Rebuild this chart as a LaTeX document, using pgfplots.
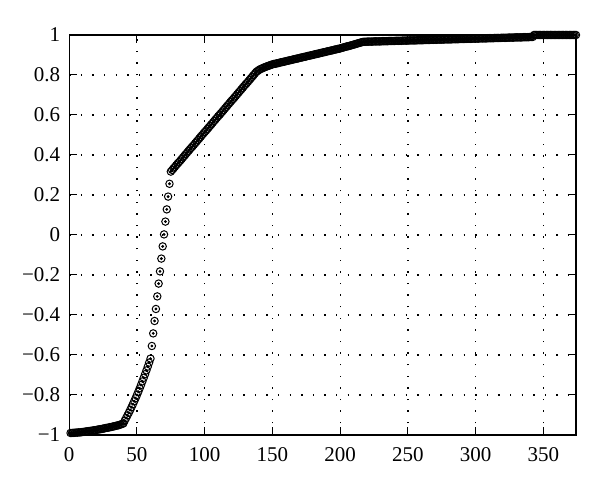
\documentclass[border=0pt]{standalone}
\usepackage{fontspec}
\setmainfont{Liberation Serif}
\usepackage{pgfplots}
\usepackage{pgfplotstable}
\pgfplotsset{compat=1.18}

\pgfplotstableread[row sep=\\]{
x y\\
1 -0.990\\ 2 -0.990\\ 3 -0.989\\ 4 -0.989\\ 5 -0.988\\ 6 -0.988\\ 7 -0.987\\ 8 -0.987\\ 9 -0.986\\ 10 -0.985\\
11 -0.984\\ 12 -0.983\\ 13 -0.982\\ 14 -0.981\\ 15 -0.980\\ 16 -0.979\\ 17 -0.978\\ 18 -0.977\\ 19 -0.976\\ 20 -0.975\\
21 -0.973\\ 22 -0.972\\ 23 -0.971\\ 24 -0.970\\ 25 -0.968\\ 26 -0.967\\ 27 -0.965\\ 28 -0.964\\ 29 -0.963\\ 30 -0.961\\
31 -0.960\\ 32 -0.958\\ 33 -0.957\\ 34 -0.955\\ 35 -0.953\\ 36 -0.952\\ 37 -0.950\\ 38 -0.947\\ 39 -0.945\\ 40 -0.942\\
41 -0.928\\ 42 -0.915\\ 43 -0.902\\ 44 -0.889\\ 45 -0.875\\ 46 -0.861\\ 47 -0.846\\ 48 -0.831\\ 49 -0.816\\ 50 -0.800\\
51 -0.784\\ 52 -0.767\\ 53 -0.750\\ 54 -0.732\\ 55 -0.714\\ 56 -0.696\\ 57 -0.677\\ 58 -0.658\\ 59 -0.638\\ 60 -0.618\\
61 -0.555\\ 62 -0.492\\ 63 -0.430\\ 64 -0.370\\ 65 -0.307\\ 66 -0.243\\ 67 -0.182\\ 68 -0.118\\ 69 -0.057\\ 70 0.003\\
71 0.067\\ 72 0.128\\ 73 0.192\\ 74 0.256\\ 75 0.317\\ 76 0.325\\ 77 0.333\\ 78 0.341\\ 79 0.349\\ 80 0.357\\
81 0.364\\ 82 0.372\\ 83 0.380\\ 84 0.388\\ 85 0.396\\ 86 0.404\\ 87 0.412\\ 88 0.420\\ 89 0.428\\ 90 0.436\\
91 0.443\\ 92 0.451\\ 93 0.459\\ 94 0.467\\ 95 0.475\\ 96 0.483\\ 97 0.491\\ 98 0.499\\ 99 0.507\\ 100 0.515\\
101 0.522\\ 102 0.530\\ 103 0.538\\ 104 0.546\\ 105 0.554\\ 106 0.562\\ 107 0.570\\ 108 0.578\\ 109 0.586\\ 110 0.594\\
111 0.601\\ 112 0.609\\ 113 0.617\\ 114 0.625\\ 115 0.633\\ 116 0.641\\ 117 0.649\\ 118 0.657\\ 119 0.665\\ 120 0.673\\
121 0.680\\ 122 0.688\\ 123 0.696\\ 124 0.704\\ 125 0.712\\ 126 0.720\\ 127 0.728\\ 128 0.736\\ 129 0.744\\ 130 0.752\\
131 0.759\\ 132 0.767\\ 133 0.775\\ 134 0.783\\ 135 0.791\\ 136 0.799\\ 137 0.807\\ 138 0.815\\ 139 0.820\\ 140 0.825\\
141 0.829\\ 142 0.832\\ 143 0.835\\ 144 0.838\\ 145 0.841\\ 146 0.843\\ 147 0.846\\ 148 0.848\\ 149 0.851\\ 150 0.853\\
151 0.855\\ 152 0.856\\ 153 0.858\\ 154 0.859\\ 155 0.861\\ 156 0.863\\ 157 0.864\\ 158 0.866\\ 159 0.867\\ 160 0.869\\
161 0.871\\ 162 0.872\\ 163 0.874\\ 164 0.875\\ 165 0.877\\ 166 0.879\\ 167 0.880\\ 168 0.882\\ 169 0.883\\ 170 0.885\\
171 0.887\\ 172 0.888\\ 173 0.890\\ 174 0.891\\ 175 0.893\\ 176 0.895\\ 177 0.896\\ 178 0.898\\ 179 0.899\\ 180 0.901\\
181 0.903\\ 182 0.904\\ 183 0.906\\ 184 0.907\\ 185 0.909\\ 186 0.911\\ 187 0.912\\ 188 0.914\\ 189 0.915\\ 190 0.917\\
191 0.919\\ 192 0.920\\ 193 0.922\\ 194 0.923\\ 195 0.925\\ 196 0.927\\ 197 0.928\\ 198 0.930\\ 199 0.931\\ 200 0.933\\
201 0.935\\ 202 0.937\\ 203 0.939\\ 204 0.941\\ 205 0.943\\ 206 0.944\\ 207 0.946\\ 208 0.948\\ 209 0.950\\ 210 0.952\\
211 0.954\\ 212 0.956\\ 213 0.958\\ 214 0.960\\ 215 0.962\\ 216 0.964\\ 217 0.966\\ 218 0.966\\ 219 0.966\\ 220 0.967\\
221 0.967\\ 222 0.967\\ 223 0.967\\ 224 0.967\\ 225 0.968\\ 226 0.968\\ 227 0.968\\ 228 0.968\\ 229 0.968\\ 230 0.968\\
231 0.969\\ 232 0.969\\ 233 0.969\\ 234 0.969\\ 235 0.969\\ 236 0.970\\ 237 0.970\\ 238 0.970\\ 239 0.970\\ 240 0.970\\
241 0.971\\ 242 0.971\\ 243 0.971\\ 244 0.971\\ 245 0.971\\ 246 0.972\\ 247 0.972\\ 248 0.972\\ 249 0.972\\ 250 0.972\\
251 0.973\\ 252 0.973\\ 253 0.973\\ 254 0.973\\ 255 0.973\\ 256 0.973\\ 257 0.974\\ 258 0.974\\ 259 0.974\\ 260 0.974\\
261 0.974\\ 262 0.975\\ 263 0.975\\ 264 0.975\\ 265 0.975\\ 266 0.975\\ 267 0.976\\ 268 0.976\\ 269 0.976\\ 270 0.976\\
271 0.976\\ 272 0.977\\ 273 0.977\\ 274 0.977\\ 275 0.977\\ 276 0.977\\ 277 0.978\\ 278 0.978\\ 279 0.978\\ 280 0.978\\
281 0.978\\ 282 0.978\\ 283 0.979\\ 284 0.979\\ 285 0.979\\ 286 0.979\\ 287 0.979\\ 288 0.980\\ 289 0.980\\ 290 0.980\\
291 0.980\\ 292 0.980\\ 293 0.981\\ 294 0.981\\ 295 0.981\\ 296 0.981\\ 297 0.981\\ 298 0.982\\ 299 0.982\\ 300 0.982\\
301 0.982\\ 302 0.982\\ 303 0.983\\ 304 0.983\\ 305 0.983\\ 306 0.983\\ 307 0.983\\ 308 0.983\\ 309 0.984\\ 310 0.984\\
311 0.984\\ 312 0.984\\ 313 0.984\\ 314 0.985\\ 315 0.985\\ 316 0.985\\ 317 0.985\\ 318 0.985\\ 319 0.986\\ 320 0.986\\
321 0.986\\ 322 0.986\\ 323 0.986\\ 324 0.987\\ 325 0.987\\ 326 0.987\\ 327 0.987\\ 328 0.987\\ 329 0.988\\ 330 0.988\\
331 0.988\\ 332 0.988\\ 333 0.988\\ 334 0.988\\ 335 0.989\\ 336 0.989\\ 337 0.989\\ 338 0.989\\ 339 0.989\\ 340 0.990\\
341 0.990\\ 342 0.990\\ 343 1.000\\ 344 1.000\\ 345 1.000\\ 346 1.000\\ 347 1.000\\ 348 1.000\\ 349 1.000\\ 350 1.000\\
351 1.000\\ 352 1.000\\ 353 1.000\\ 354 1.000\\ 355 1.000\\ 356 1.000\\ 357 1.000\\ 358 1.000\\ 359 1.000\\ 360 1.000\\
361 1.000\\ 362 1.000\\ 363 1.000\\ 364 1.000\\ 365 1.000\\ 366 1.000\\ 367 1.000\\ 368 1.000\\ 369 1.000\\ 370 1.000\\
371 1.000\\ 372 1.000\\ 373 1.000\\ 374 1.000\\
}\curve

\begin{document}
\begin{tikzpicture}
\begin{axis}[
    scale only axis,
    width=253.4pt, height=200pt,
    xmin=0, xmax=374,
    ymin=-1, ymax=1,
    xtick={0,50,...,350},
    ytick={-1,-0.8,...,1},
    yticklabels={−1,−0.8,−0.6,−0.4,−0.2,0,0.2,0.4,0.6,0.8,1},
    /pgf/number format/assume math mode=true,
    tick align=inside,
    major tick length=4pt,
    tick style={black, line width=0.5pt},
    axis line style={line width=0.55pt},
    ticklabel style={font=\fontsize{10.5}{12}\selectfont},
    xticklabel style={yshift=-2.5pt},
    yticklabel style={xshift=-1pt},
    grid=major,
    major grid style={black, line width=0.6pt, dash pattern=on 0.7pt off 5.1pt},
    clip=false,
]
\addplot[only marks, mark=o, mark size=1.85pt, mark options={line width=0.5pt, black}] table[x=x, y=y] {\curve};
\addplot[only marks, mark=*, mark size=0.5pt, mark options={black}] table[x=x, y=y] {\curve};
\end{axis}
\path ([shift={(-34.6pt,-25pt)}]current axis.south west) rectangle ([shift={(12pt,17.5pt)}]current axis.north east);
\end{tikzpicture}
\end{document}
